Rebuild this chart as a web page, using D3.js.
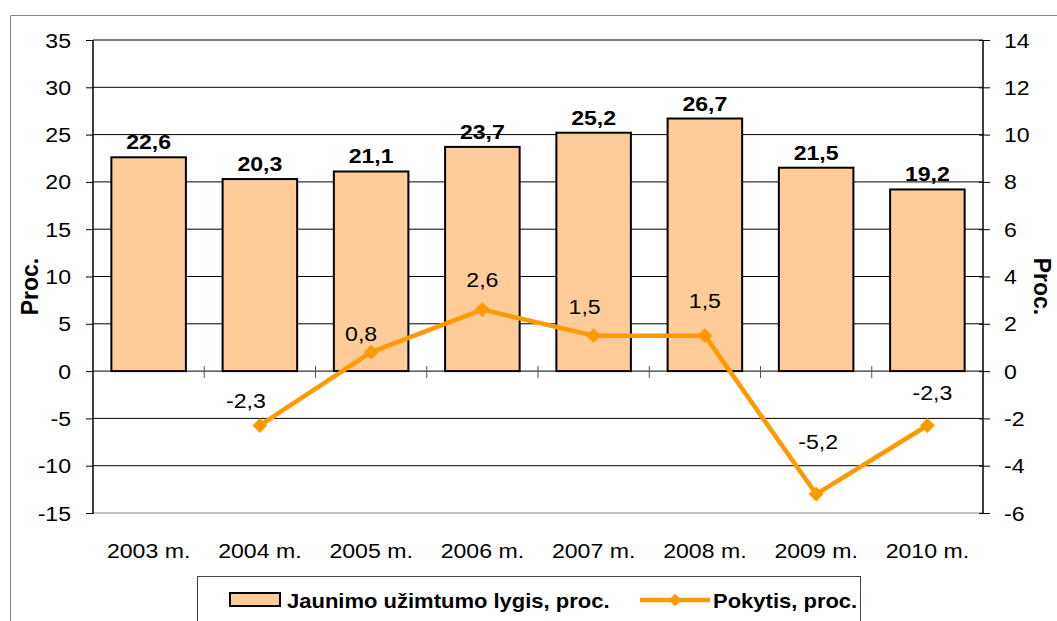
<!DOCTYPE html>
<html>
<head>
<meta charset="utf-8">
<script src="https://cdn.jsdelivr.net/npm/d3@7"></script>
<style>
  body { margin: 0; background: #fff; }
  text { font-family: "Liberation Sans", Arial, sans-serif; }
</style>
</head>
<body>
<svg id="chart" width="1057" height="621"></svg>
<script>
const years = ['2003 m.', '2004 m.', '2005 m.', '2006 m.', '2007 m.', '2008 m.', '2009 m.', '2010 m.']
const employment = [22.6, 20.3, 21.1, 23.7, 25.2, 26.7, 21.5, 19.2]
// change has no value for the first year
const change = [null, -2.3, 0.8, 2.6, 1.5, 1.5, -5.2, -2.3]
const leftTicks = [-15, -10, -5, 0, 5, 10, 15, 20, 25, 30, 35]
const rightTicks = [-6, -4, -2, 0, 2, 4, 6, 8, 10, 12, 14]
// manual label nudges for the line labels, like in the original
const labelDx = [0, -14, -10, 0, -9, 0, 2, 5]
const labelDy = [0, -25, -19, -30, -29, -35, -53, -33]

const fmt = v => String(v).replace('.', ',')
const stretch = 1.1  // the original picture is a bit wider than tall

const svg = d3.select('#chart')
const margin = { left: 93, right: 74, top: 40, bottom: 108 }
const width = 1057
const height = 621
const x0 = margin.left, x1 = width - margin.right
const y0 = margin.top, y1 = height - margin.bottom

// text helper, stretched horizontally
let label = (g, x, y, str, opts = {}) => g.append('text')
  .attr('transform', `translate(${x},${y}) scale(${stretch},1)`)
  .attr('text-anchor', opts.anchor || 'middle')
  .attr('font-size', opts.size || 21)
  .attr('font-weight', opts.bold ? 'bold' : 'normal')
  .text(str)

// outer frame
svg.append('path')
  .attr('d', `M10.5,${height}V15.5H${width}`)
  .attr('fill', 'none')
  .attr('stroke', '#888')

let x = d3.scaleBand().domain(years).range([x0, x1]).paddingInner(0.33).paddingOuter(0.165)
let band = d3.scaleBand().domain(years).range([x0, x1])
let yL = d3.scaleLinear().domain([-15, 35]).range([y1, y0])
let yR = d3.scaleLinear().domain([-6, 14]).range([y1, y0])

// grid lines
svg.append('g')
  .selectAll('line')
  .data(leftTicks)
  .enter().append('line')
  .attr('x1', x0).attr('x2', x1)
  .attr('y1', d => yL(d)).attr('y2', d => yL(d))
  .attr('stroke', d => d == -15 ? '#888' : '#000')
  .attr('stroke-width', 1)

// left axis
let left = svg.append('g')
  .attr('transform', `translate(${x0},0)`)
  .call(d3.axisLeft(yL).tickValues(leftTicks).tickSize(7).tickFormat(''))
left.select('.domain').remove()
left.append('line').attr('y1', y0).attr('y2', y1 + 1).attr('stroke', '#000').attr('stroke-width', 1.5)
left.selectAll('.tick line').attr('stroke', '#000')
leftTicks.forEach(t => label(svg, x0 - 22, yL(t) + 7.5, t, { anchor: 'end' }))

// right axis
let right = svg.append('g')
  .attr('transform', `translate(${x1},0)`)
  .call(d3.axisRight(yR).tickValues(rightTicks).tickSize(7).tickFormat(''))
right.select('.domain').remove()
right.append('line').attr('y1', y0).attr('y2', y1 + 1).attr('stroke', '#000').attr('stroke-width', 1.5)
right.selectAll('.tick line').attr('x1', -4).attr('stroke', '#000')
rightTicks.forEach(t => label(svg, x1 + 21, yR(t) + 7.5, t, { anchor: 'start' }))

// axis titles
svg.append('text')
  .attr('transform', `translate(38,${(y0 + y1) / 2 + 10}) rotate(-90)`)
  .attr('text-anchor', 'middle')
  .attr('font-size', 23).attr('font-weight', 'bold')
  .text('Proc.')
svg.append('text')
  .attr('transform', `translate(1034,${(y0 + y1) / 2 + 10}) rotate(90)`)
  .attr('text-anchor', 'middle')
  .attr('font-size', 23).attr('font-weight', 'bold')
  .text('Proc.')

// bars
svg.append('g')
  .selectAll('rect')
  .data(employment)
  .enter().append('rect')
  .attr('x', (d, i) => x(years[i]))
  .attr('width', x.bandwidth())
  .attr('y', d => yL(d))
  .attr('height', d => yL(0) - yL(d))
  .attr('fill', '#FFCC99')
  .attr('stroke', '#000')
  .attr('stroke-width', 2)

// x axis ticks at zero line
svg.append('g')
  .selectAll('line')
  .data(years.slice(1))
  .enter().append('line')
  .attr('x1', d => band(d)).attr('x2', d => band(d))
  .attr('y1', yL(0) - 5).attr('y2', yL(0) + 7)
  .attr('stroke', '#555')

years.forEach(d => label(svg, band(d) + band.bandwidth() / 2, 558, d))

// bar labels
employment.forEach((d, i) =>
  label(svg, x(years[i]) + x.bandwidth() / 2, yL(d) - 8, fmt(d), { bold: true }))

// line series
let pts = change.map((v, i) => ({ v, i })).filter(d => d.v != null)
let cx = d => band(years[d.i]) + band.bandwidth() / 2
let line = d3.line().x(cx).y(d => yR(d.v))
svg.append('path')
  .datum(pts)
  .attr('d', line)
  .attr('fill', 'none')
  .attr('stroke', '#FF9900')
  .attr('stroke-width', 4.5)
  .attr('stroke-linejoin', 'round')

svg.append('g')
  .selectAll('path')
  .data(pts)
  .enter().append('path')
  .attr('d', d3.symbol(d3.symbolSquare, 110))
  .attr('transform', d => `translate(${cx(d)},${yR(d.v)}) rotate(45)`)
  .attr('fill', '#FF9900')

pts.forEach(d => label(svg, cx(d) + labelDx[d.i], yR(d.v) + labelDy[d.i] + 7.5, fmt(d.v)))

// legend
let legend = svg.append('g')
legend.append('rect')
  .attr('x', 197.5).attr('y', 576.5)
  .attr('width', 663).attr('height', 60)
  .attr('fill', '#fff').attr('stroke', '#444')
legend.append('rect')
  .attr('x', 230).attr('y', 593)
  .attr('width', 50).attr('height', 13)
  .attr('fill', '#FFCC99').attr('stroke', '#000').attr('stroke-width', 2)
label(legend, 287, 608, 'Jaunimo užimtumo lygis, proc.', { anchor: 'start', bold: true, size: 20 })
legend.append('line')
  .attr('x1', 640).attr('x2', 710).attr('y1', 600).attr('y2', 600)
  .attr('stroke', '#FF9900').attr('stroke-width', 4.5)
legend.append('path')
  .attr('d', d3.symbol(d3.symbolSquare, 80))
  .attr('transform', 'translate(675,600) rotate(45)')
  .attr('fill', '#FF9900')
label(legend, 713, 608, 'Pokytis, proc.', { anchor: 'start', bold: true, size: 20 })
</script>
</body>
</html>
